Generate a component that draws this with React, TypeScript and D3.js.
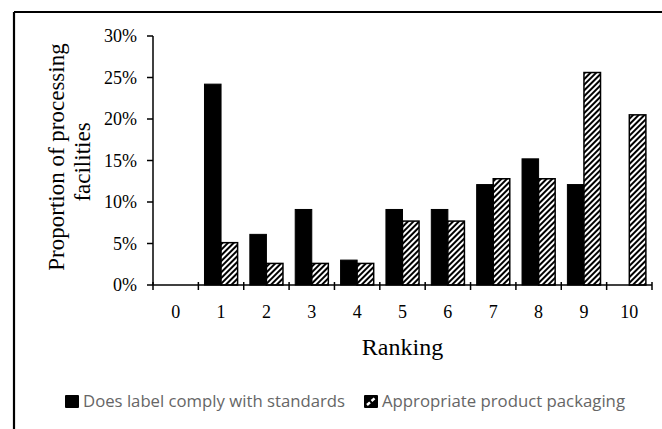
import React from "react";
import * as d3 from "d3";

const rankings = ["0", "1", "2", "3", "4", "5", "6", "7", "8", "9", "10"];
const labelComply = [0, 24.2, 6.1, 9.1, 3.0, 9.1, 9.1, 12.1, 15.2, 12.1, 0];
const packaging = [0, 5.1, 2.6, 2.6, 2.6, 7.7, 7.7, 12.8, 12.8, 25.6, 20.5];
const yTicks = [0, 5, 10, 15, 20, 25, 30];
const seriesNames = ["Does label comply with standards", "Appropriate product packaging"];

const W = 662;
const H = 429;
const plot = { left: 153, right: 652, top: 36, bottom: 285 };

export default function App() {
  const x = d3.scaleBand<string>().domain(rankings).range([plot.left, plot.right]).paddingInner(0).paddingOuter(0);
  const y = d3.scaleLinear().domain([0, 30]).range([plot.bottom, plot.top]);
  const bw = x.bandwidth();
  const barW = bw * 0.365;
  const off = (bw - 2 * barW) / 2;
  const serif = "'Liberation Serif', 'Times New Roman', serif";
  const sans = "'Open Sans', 'Noto Sans', sans-serif";

  const boundaries = d3.range(rankings.length + 1).map((i) => plot.left + i * bw);

  return (
    <svg width={W} height={H} style={{ position: "absolute", left: 0, top: 0, background: "#fff" }}>
      <defs>
        <pattern id="hatch" patternUnits="userSpaceOnUse" width={4} height={4} patternTransform="rotate(45)">
          <rect x={0} y={0} width={4} height={4} fill="#fff" />
          <rect x={0} y={0} width={2} height={4} fill="#000" />
        </pattern>
      </defs>
      <rect x={0} y={0} width={W} height={H} fill="#fff" />
      {/* frame (cropped) */}
      <line x1={14} y1={12} x2={W} y2={12} stroke="#000" strokeWidth={2.2} />
      <line x1={14} y1={12} x2={14} y2={H} stroke="#000" strokeWidth={2.2} />

      {/* bars */}
      {rankings.map((r, i) => {
        const x0 = (x(r) as number) + off;
        return (
          <g key={r}>
            {labelComply[i] > 0 && (
              <rect x={x0} y={y(labelComply[i])} width={barW} height={plot.bottom - y(labelComply[i])} fill="#000" stroke="#000" strokeWidth={1} />
            )}
            {packaging[i] > 0 && (
              <rect x={x0 + barW} y={y(packaging[i])} width={barW} height={plot.bottom - y(packaging[i])} fill="url(#hatch)" stroke="#000" strokeWidth={1.5} />
            )}
          </g>
        );
      })}

      {/* y axis */}
      <line x1={plot.left} y1={plot.top} x2={plot.left} y2={plot.bottom} stroke="#000" strokeWidth={1.5} />
      {yTicks.map((t) => (
        <g key={t}>
          <line x1={plot.left - 6} x2={plot.left} y1={y(t)} y2={y(t)} stroke="#000" strokeWidth={1.5} />
          <text x={137} y={y(t) + 6} textAnchor="end" fontFamily={serif} fontSize={18} fill="#000">
            {t + "%"}
          </text>
        </g>
      ))}

      {/* x axis */}
      <line x1={plot.left} y1={plot.bottom} x2={plot.right} y2={plot.bottom} stroke="#000" strokeWidth={1.5} />
      {boundaries.map((b, i) => (
        <line key={i} x1={b} x2={b} y1={plot.bottom - 3} y2={plot.bottom + 5} stroke="#000" strokeWidth={1.5} />
      ))}
      {rankings.map((r) => (
        <text key={r} x={(x(r) as number) + bw / 2} y={318} textAnchor="middle" fontFamily={serif} fontSize={18} fill="#000">
          {r}
        </text>
      ))}
      <text x={(plot.left + plot.right) / 2} y={355} textAnchor="middle" fontFamily={serif} fontSize={24} fill="#000">
        Ranking
      </text>

      {/* y title */}
      <text transform={`translate(64,157) rotate(-90)`} textAnchor="middle" fontFamily={serif} fontSize={23} fill="#000">
        Proportion of processing
      </text>
      <text transform={`translate(90,162) rotate(-90)`} textAnchor="middle" fontFamily={serif} fontSize={23} fill="#000">
        facilities
      </text>

      {/* legend */}
      <rect x={65} y={395} width={14} height={13} fill="#000" rx={1} />
      <text x={83} y={407} fontFamily={sans} fontSize={16} fill="#666" textLength={262} lengthAdjust="spacingAndGlyphs">
        {seriesNames[0]}
      </text>
      <rect x={364} y={395} width={14} height={13} fill="#000" rx={1} />
      <line x1={367} y1={405} x2={375} y2={398} stroke="#fff" strokeWidth={2.5} strokeDasharray="4 2" />
      <text x={382} y={407} fontFamily={sans} fontSize={16} fill="#666" textLength={243} lengthAdjust="spacingAndGlyphs">
        {seriesNames[1]}
      </text>
    </svg>
  );
}
